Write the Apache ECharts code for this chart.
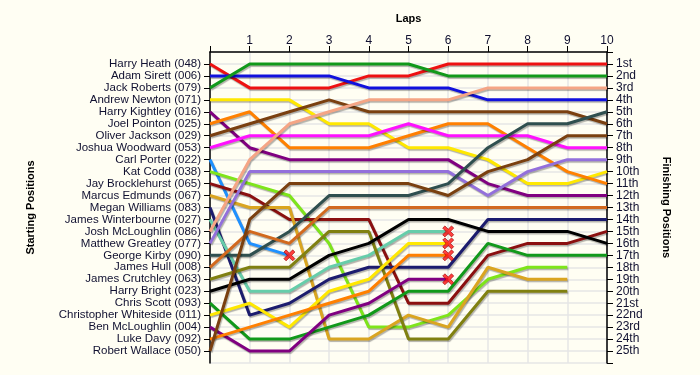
<!DOCTYPE html>
<html>
<head>
<meta charset="utf-8">
<script src="https://cdn.jsdelivr.net/npm/echarts@6/dist/echarts.min.js"></script>
<style>
html,body{margin:0;padding:0;background:#FFFEF3;}
#c{width:700px;height:375px;}
</style>
</head>
<body>
<div id="c"></div>
<script>
// Starting grid (lap 0 order)
const startNames = [
  'Harry Heath (048)', 'Adam Sirett (006)', 'Jack Roberts (079)', 'Andrew Newton (071)',
  'Harry Kightley (016)', 'Joel Pointon (025)', 'Oliver Jackson (029)', 'Joshua Woodward (053)',
  'Carl Porter (022)', 'Kat Codd (038)', 'Jay Brocklehurst (065)', 'Marcus Edmunds (067)',
  'Megan Williams (083)', 'James Winterbourne (027)', 'Josh McLoughlin (086)', 'Matthew Greatley (077)',
  'George Kirby (090)', 'James Hull (008)', 'James Crutchley (063)', 'Harry Bright (023)',
  'Chris Scott (093)', 'Christopher Whiteside (011)', 'Ben McLoughlin (004)', 'Luke Davy (092)',
  'Robert Wallace (050)'
];
const finishLabels = ['1st','2nd','3rd','4th','5th','6th','7th','8th','9th','10th','11th','12th','13th',
  '14th','15th','16th','17th','18th','19th','20th','21st','22nd','23rd','24th','25th'];
const lapLabels = ['', '1', '2', '3', '4', '5', '6', '7', '8', '9', '10'];

// Position of each driver at laps 0..n (same order as startNames)
const lapPositions = [
  [1,3,3,3,2,2,1,1,1,1,1],
  [2,2,2,2,3,3,3,4,4,4,4],
  [3,1,1,1,1,1,2,2,2,2,2],
  [4,4,4,6,6,8,8,9,11,11,10],
  [5,8,9,9,9,9,9,11,12,12,12],
  [6,5,8,8,8,7,6,6,8,10,11],
  [7,6,5,4,5,5,5,5,5,5,6],
  [8,7,7,7,7,6,7,7,7,8,8],
  [9,16,17],
  [10,11,12,16,23,23,22,19,18,18],
  [11,12,14,14,14,21,21,17,16,16,15],
  [12,13,13,24,24,22,23,18,19,19],
  [13,22,21,19,18,18,18,14,14,14,14],
  [14,20,20,18,17,15,15],
  [15,9,6,5,4,4,4,3,3,3,3],
  [16,10,10,10,10,10,10,12,10,9,9],
  [17,17,15,12,12,12,11,8,6,6,5],
  [18,15,16,13,13,13,13,13,13,13,13],
  [19,18,18,15,15,24,24,20,20,20],
  [20,19,19,17,16,14,14,15,15,15,16],
  [21,24,24,23,22,20,20,16,17,17,17],
  [22,21,23,20,19,16,16],
  [23,25,25,22,21,19,19],
  [24,23,22,21,20,17,17],
  [25,14,11,11,11,11,12,10,9,7,7]
];
// Drivers who retired (marked with a cross at their last lap)
const retiredDrivers = ['Carl Porter (022)', 'James Winterbourne (027)', 'Christopher Whiteside (011)',
  'Ben McLoughlin (004)', 'Luke Davy (092)'];

const palette = ['#ee1111','#1111dd','#11991a','#ffe800','#800080','#ff8000','#7a4010','#ff11ff',
  '#1e90ff','#7ee51a','#8b1010','#daa520','#1c1c6e','#66cdaa','#f5a585','#9370db',
  '#2f4f4f','#d2691e','#808010','#000000','#11991a','#ffe800','#800080','#ff8000','#7a4010'];

const font = 'Arial, "Liberation Sans", sans-serif';
const labelColor = '#101030';

const series = lapPositions.map((pos, i) => ({
  type: 'line',
  name: startNames[i],
  data: pos.map((p, lap) => [lap, p]),
  symbol: 'none',
  animation: false,
  lineStyle: {
    color: palette[i], width: 3,
    shadowColor: 'rgba(0,0,0,0.3)', shadowBlur: 1, shadowOffsetX: 1, shadowOffsetY: 1.5
  },
  z: 3
}));

const crossData = startNames
  .map((n, i) => retiredDrivers.includes(n) ? [lapPositions[i].length - 1, lapPositions[i][lapPositions[i].length - 1]] : null)
  .filter(d => d);

series.push({
  type: 'scatter',
  data: crossData,
  symbol: 'path://M2,0 L5,3 L8,0 L10,2 L7,5 L10,8 L8,10 L5,7 L2,10 L0,8 L3,5 L0,2 Z',
  symbolSize: 11,
  itemStyle: { color: '#ff1010', borderColor: '#990000', borderWidth: 0.8 },
  z: 5,
  animation: false
});

const yCommon = {
  type: 'value', min: 0, max: 26, interval: 1, inverse: true,
  axisLine: { show: true, lineStyle: { color: '#000', width: 1.5 } },
  axisTick: { show: true, length: 6, lineStyle: { color: '#000', width: 1 } },
  splitLine: { show: false },
  nameLocation: 'middle',
  nameTextStyle: { fontFamily: font, fontSize: 11, fontWeight: 'bold', color: '#000' }
};

const chart = echarts.init(document.getElementById('c'), null, { renderer: 'canvas' });
chart.setOption({
  backgroundColor: '#FFFEF3',
  animation: false,
  grid: { left: 210, right: 93, top: 52, bottom: 12 },
  xAxis: {
    type: 'value', position: 'top', min: 0, max: 10, interval: 1,
    name: 'Laps', nameLocation: 'middle', nameGap: 28,
    nameTextStyle: { fontFamily: font, fontSize: 11, fontWeight: 'bold', color: '#000' },
    axisLine: { show: true, lineStyle: { color: '#000', width: 1.5 } },
    axisTick: { show: true, length: 6, lineStyle: { color: '#000', width: 1 } },
    axisLabel: { formatter: v => lapLabels[v], fontFamily: font, fontSize: 12, color: labelColor, margin: 5 },
    splitLine: { show: true, lineStyle: { color: '#e6e6e6', width: 1.5 } }
  },
  yAxis: [
    Object.assign({}, yCommon, {
      position: 'left',
      name: 'Starting Positions', nameRotate: 90, nameGap: 174,
      axisLabel: { formatter: v => startNames[v - 1] || '', fontFamily: font, fontSize: 11.5, color: labelColor, margin: 9, showMinLabel: false, showMaxLabel: false },
      splitLine: { show: true, lineStyle: { color: '#e6e6e6', width: 1.5 } }
    }),
    Object.assign({}, yCommon, {
      position: 'right',
      name: 'Finishing Positions', nameRotate: -90, nameGap: 54,
      axisLabel: { formatter: v => finishLabels[v - 1] || '', fontFamily: font, fontSize: 12, color: labelColor, margin: 9 }
    })
  ],
  series: series
});
</script>
</body>
</html>
